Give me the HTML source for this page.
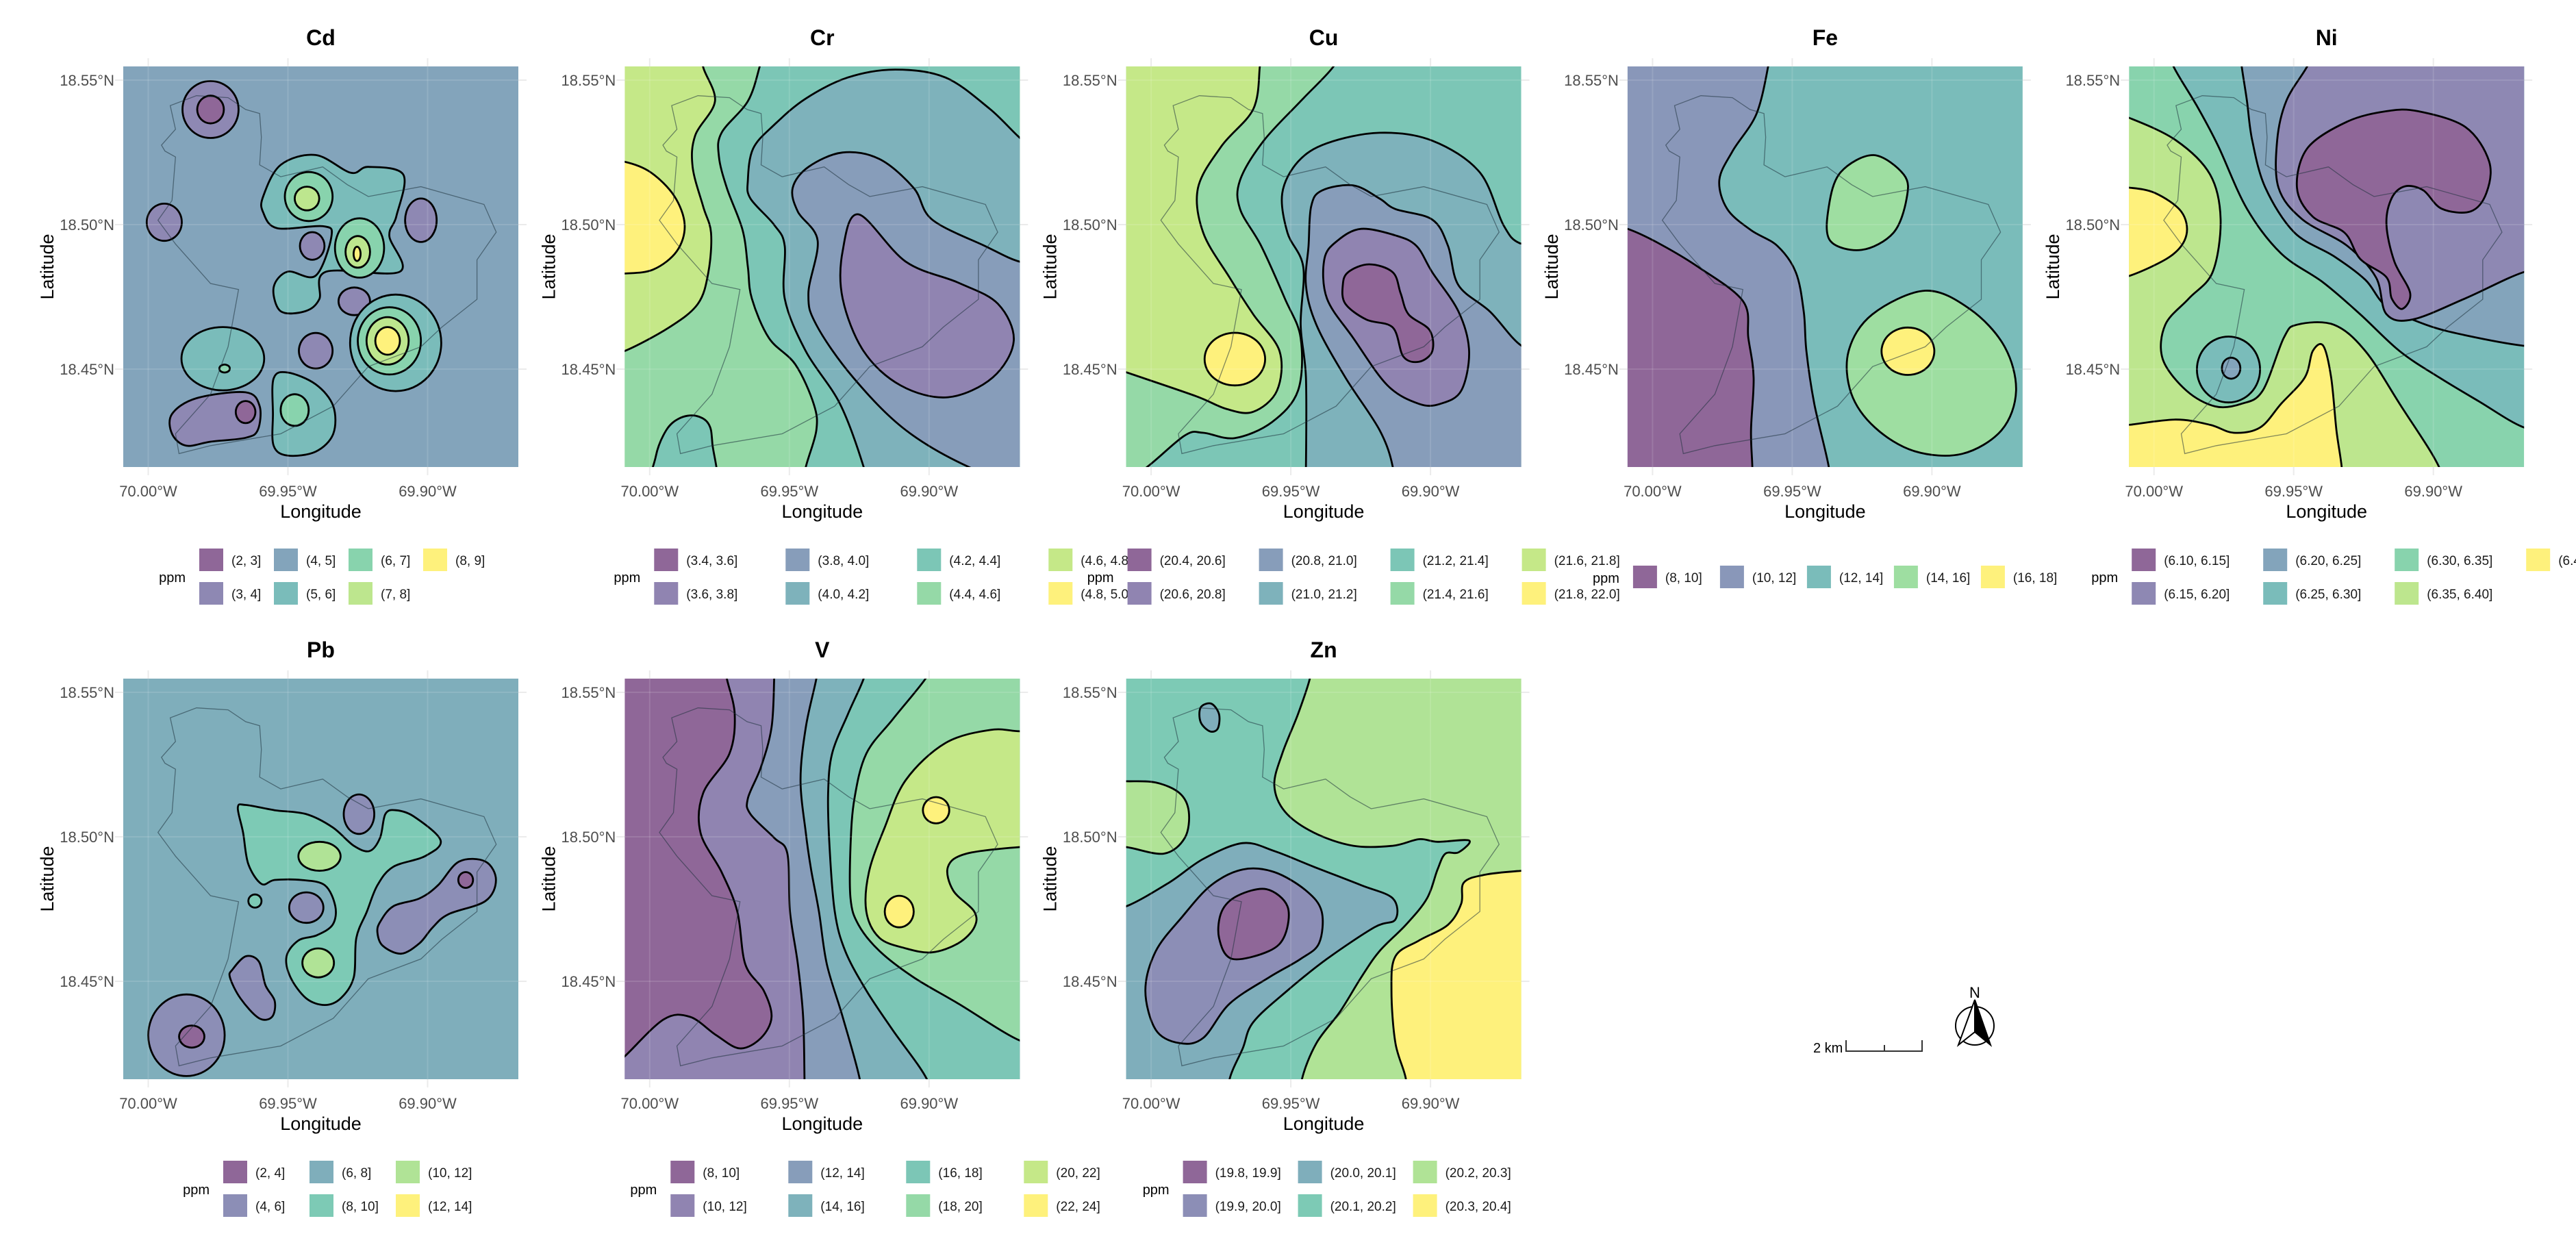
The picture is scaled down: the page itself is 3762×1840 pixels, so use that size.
<!DOCTYPE html>
<html><head><meta charset="utf-8">
<style>
html,body{margin:0;padding:0;background:#fff;}
svg{display:block;font-family:"Liberation Sans",sans-serif;}
</style></head>
<body>
<svg id="fig" xmlns="http://www.w3.org/2000/svg" width="3762" height="1840" viewBox="0 0 3762 1840">
<rect width="3762" height="1840" fill="#fff"/>
<g>
<text x="2648" y="1537" font-size="20" fill="#000">2 km</text>
<path d="M2696 1519 V1535 H2807 V1519 M2752 1526 V1535" stroke="#333" stroke-width="2" fill="none"/>
</g>
<g>
<text x="2884" y="1457" font-size="22" text-anchor="middle" fill="#000">N</text>
<circle cx="2884" cy="1498" r="28" fill="none" stroke="#000" stroke-width="2"/>
<path d="M2884 1460 L2860 1526 L2884 1507 Z" fill="#fff" stroke="#000" stroke-width="2"/>
<path d="M2884 1460 L2907 1526 L2884 1507 Z" fill="#000" stroke="#000" stroke-width="2"/>
</g>
</svg>
<script>
const NS="http://www.w3.org/2000/svg";
const svg=document.getElementById('fig');

// ---------- data ----------
const xTickLon=[70.00,69.95,69.90];
const xTickLabels=["70.00°W","69.95°W","69.90°W"];
const yTickLat=[18.55,18.50,18.45];
const yTickLabels=["18.55°N","18.50°N","18.45°N"];

const cdLabels=["(2, 3]","(3, 4]","(4, 5]","(5, 6]","(6, 7]","(7, 8]","(8, 9]"];
const crLabels=["(3.4, 3.6]","(3.6, 3.8]","(3.8, 4.0]","(4.0, 4.2]","(4.2, 4.4]","(4.4, 4.6]","(4.6, 4.8]","(4.8, 5.0]"];
const cuLabels=["(20.4, 20.6]","(20.6, 20.8]","(20.8, 21.0]","(21.0, 21.2]","(21.2, 21.4]","(21.4, 21.6]","(21.6, 21.8]","(21.8, 22.0]"];
const feLabels=["(8, 10]","(10, 12]","(12, 14]","(14, 16]","(16, 18]"];
const niLabels=["(6.10, 6.15]","(6.15, 6.20]","(6.20, 6.25]","(6.25, 6.30]","(6.30, 6.35]","(6.35, 6.40]","(6.40, 6.45]"];
const pbLabels=["(2, 4]","(4, 6]","(6, 8]","(8, 10]","(10, 12]","(12, 14]"];
const vLabels=["(8, 10]","(10, 12]","(12, 14]","(14, 16]","(16, 18]","(18, 20]","(20, 22]","(22, 24]"];
const znLabels=["(19.8, 19.9]","(19.9, 20.0]","(20.0, 20.1]","(20.1, 20.2]","(20.2, 20.3]","(20.3, 20.4]"];

const cdRegions=[
 {c:3,p:[[750,500],[800,420],[900,395],[1000,440],[1050,425],[1150,445],[1130,550],[1110,600],[1140,690],[930,690],[910,760],[870,790],[800,790],[780,730],[820,690],[900,700],[945,600],[920,575],[790,580],[750,540]]},
 {c:4,e:[880,500,68,62]},{c:5,e:[875,505,35,30]},
 {c:4,e:[1025,630,70,75]},{c:5,e:[1020,640,35,40]},{c:6,e:[1018,645,10,18]},
 {c:1,e:[600,280,80,72]},{c:0,e:[600,280,38,35]},
 {c:1,e:[468,565,50,47]},{c:1,e:[890,625,35,35]},{c:1,e:[1010,765,45,35]},{c:1,e:[900,890,48,45]},{c:1,e:[1200,560,45,55]},
 {c:3,e:[1128,870,130,122]},{c:4,e:[1110,865,90,85]},{c:5,e:[1105,865,60,60]},{c:6,e:[1105,865,35,35]},
 {c:3,e:[635,910,118,80]},{c:4,e:[640,935,15,10]},
 {c:1,p:[[490,1050],[560,1010],[700,995],[740,1030],[735,1090],[700,1110],[600,1120],[530,1130],[490,1100]]},{c:0,e:[700,1045,28,28]},
 {c:3,p:[[780,960],[820,945],[900,975],[950,1030],[950,1100],[900,1145],[820,1155],[780,1130],[778,1050]]},{c:4,e:[840,1040,40,40]}
];
const crRegions=[
 {c:7,p:[[-50,380],[30,380],[130,420],[220,510],[260,620],[230,720],[140,790],[30,805],[-50,805]]},
 {c:5,p:[[330,-50],[330,20],[375,150],[300,280],[290,400],[330,550],[360,650],[350,800],[310,920],[200,1010],[30,1100],[-50,1110],[-50,1650],[1650,1650],[1650,-50]]},
 {c:4,p:[[560,-50],[545,18],[500,150],[400,270],[390,360],[420,480],[480,640],[500,780],[515,900],[580,1050],[680,1150],[750,1300],[760,1400],[720,1540],[700,1650],[1650,1650],[1650,-50]]},
 {c:4,p:[[140,1650],[150,1500],[190,1400],[240,1355],[300,1345],[350,1375],[365,1450],[370,1650]]},
 {c:3,p:[[520,330],[600,240],[720,140],[880,60],[1060,30],[1250,60],[1420,180],[1560,310],[1650,320],[1650,1650],[960,1650],[940,1540],[850,1300],[720,1100],[640,900],[640,700],[600,620],[510,520],[500,450]]},
 {c:2,p:[[1650,770],[1533,760],[1400,700],[1200,600],[1130,480],[1000,370],[860,345],[730,400],[670,480],[690,570],[765,680],[730,880],[760,1000],[900,1200],[1100,1400],[1350,1545],[1650,1650]]},
 {c:1,p:[[920,580],[1100,760],[1300,840],[1450,920],[1510,1060],[1430,1200],[1260,1275],[1080,1230],[940,1100],[860,900],[860,720]]}
];
const cuRegions=[
 {c:5,p:[[-50,-50],[840,-50],[825,18],[700,150],[560,300],[470,450],[470,560],[550,700],[640,900],[700,1050],[690,1250],[590,1370],[450,1430],[330,1410],[260,1420],[110,1545],[-50,1650]]},
 {c:6,p:[[-50,-50],[550,-50],[545,18],[520,180],[400,320],[310,480],[330,650],[430,820],[520,960],[620,1100],[610,1250],[520,1330],[420,1320],[300,1270],[37,1180],[-50,1150]]},
 {c:7,e:[450,1130,115,100]},
 {c:3,p:[[1650,700],[1533,690],[1470,620],[1380,420],[1200,300],[1000,270],[800,310],[690,380],[630,500],[650,650],[710,780],[700,1000],[720,1200],[720,1540],[715,1650],[1650,1650]]},
 {c:2,p:[[780,490],[900,470],[1000,520],[1060,560],[1200,600],[1260,700],[1300,850],[1420,950],[1540,1080],[1650,1100],[1650,1650],[1050,1650],[1050,1540],[1000,1400],[870,1200],[760,1000],[720,850],[730,700],[740,550]]},
 {c:1,p:[[930,635],[1060,660],[1140,700],[1200,800],[1300,950],[1340,1100],[1310,1250],[1230,1300],[1150,1300],[1030,1230],[900,1050],[800,900],[790,750],[840,680]]},
 {c:0,p:[[880,800],[960,770],[1050,800],[1080,880],[1110,960],[1190,1020],[1200,1100],[1150,1140],[1090,1120],[1050,1010],[950,980],[870,920],[860,850]]}
];
const feRegions=[
 {c:1,p:[[-50,-50],[570,-50],[565,18],[520,200],[430,340],[380,450],[410,560],[500,640],[600,700],[670,800],[700,950],[710,1100],[740,1300],[795,1540],[800,1650],[-50,1650]]},
 {c:0,p:[[-50,620],[32,635],[150,690],[300,780],[470,910],[490,1050],[510,1200],[500,1400],[505,1540],[505,1650],[-50,1650]]},
 {c:3,p:[[965,355],[1080,430],[1090,520],[1040,650],[920,715],[800,680],[795,550],[840,420]]},
 {c:3,p:[[1160,870],[1330,940],[1460,1080],[1505,1250],[1450,1400],[1300,1490],[1120,1480],[970,1390],[880,1260],[870,1100],[960,960]]},
 {c:4,e:[1095,1100,100,90]}
];
const niRegions=[
 {c:5,p:[[-50,200],[22,215],[200,300],[330,430],[370,600],[340,800],[250,900],[160,1000],[150,1130],[240,1250],[350,1310],[450,1300],[530,1250],[610,1050],[660,1000],[800,1000],[920,1100],[1050,1300],[1200,1540],[1210,1650],[-50,1650]]},
 {c:3,e:[400,1170,120,125]},{c:2,e:[410,1165,35,40]},
 {c:6,p:[[-50,480],[22,480],[120,500],[220,570],[240,660],[180,740],[22,815],[-50,815]]},
 {c:6,p:[[-50,1385],[22,1380],[200,1360],[330,1380],[420,1410],[520,1390],[600,1300],[690,1200],[720,1100],[760,1080],[790,1200],[810,1400],[830,1540],[835,1650],[-50,1650]]},
 {c:3,p:[[180,-50],[190,18],[280,170],[360,320],[470,560],[600,730],[760,840],[900,960],[1050,1100],[1200,1200],[1350,1290],[1523,1390],[1650,1400],[1650,-50]]},
 {c:2,p:[[445,-50],[450,18],[470,150],[490,300],[540,480],[650,650],[800,740],[920,830],[1000,930],[1150,1000],[1300,1040],[1523,1080],[1650,1080],[1650,-50]]},
 {c:1,p:[[720,-50],[700,18],[620,150],[585,300],[590,480],[680,600],[850,700],[960,820],[1000,960],[1100,980],[1300,900],[1523,800],[1650,790],[1650,-50]]},
 {c:0,p:[[1120,190],[1300,250],[1390,380],[1380,500],[1320,570],[1210,560],[1140,490],[1070,475],[1020,520],[1000,620],[1030,760],[1090,880],[1060,940],[1020,900],[1000,820],[900,750],[840,650],[720,590],[660,480],[700,330],[850,230],[1000,190]]}
];
const pbRegions=[
 {c:3,p:[[460,505],[490,495],[600,515],[720,530],[820,580],[900,650],[960,670],[1000,620],[1020,530],[1060,515],[1130,540],[1230,630],[1170,690],[1050,730],[990,800],[950,900],[910,1000],[900,1150],[850,1230],[790,1255],[720,1230],[660,1150],[645,1070],[690,1010],[760,990],[820,950],[830,880],[790,800],[700,780],[600,780],[550,795],[500,720],[480,600]]},
 {c:4,e:[770,690,80,55]},{c:4,e:[765,1095,60,55]},{c:3,e:[525,860,25,25]},
 {c:1,e:[920,530,58,75]},{c:1,e:[720,885,65,58]},
 {c:1,e:[265,1370,145,155]},{c:0,e:[285,1375,48,42]},
 {c:1,p:[[440,1120],[490,1070],[540,1090],[565,1180],[600,1240],[590,1300],[540,1305],[470,1230],[430,1150]]},
 {c:1,p:[[1000,940],[1050,880],[1150,850],[1220,800],[1300,710],[1400,710],[1440,780],[1400,860],[1260,910],[1200,960],[1150,1020],[1080,1060],[1010,1030],[990,980]]},
 {c:0,e:[1325,780,28,30]}
];
const vRegions=[
 {c:1,p:[[410,-50],[420,15],[450,150],[430,300],[330,450],[320,600],[400,750],[460,900],[490,1100],[560,1200],[590,1300],[550,1380],[470,1420],[380,1370],[280,1300],[180,1310],[32,1450],[-50,1520],[-50,1650],[1650,1650],[1650,-50]]},
 {c:2,p:[[600,-50],[600,15],[590,200],[550,350],[500,470],[510,530],[600,620],[650,680],[660,900],[690,1100],[710,1300],[715,1537],[715,1650],[1650,1650],[1650,-50]]},
 {c:3,p:[[765,-50],[760,15],[720,200],[700,400],[720,600],[740,740],[770,900],[800,1100],[860,1300],[925,1537],[930,1650],[1650,1650],[1650,-50]]},
 {c:4,p:[[950,-50],[940,15],[880,150],[820,300],[805,450],[810,650],[830,900],[870,1050],[950,1200],[1050,1350],[1180,1537],[1200,1650],[1650,1650],[1650,-50]]},
 {c:5,p:[[1200,-50],[1175,15],[1050,170],[950,300],[905,470],[890,650],[890,850],[920,950],[1000,1050],[1130,1150],[1300,1250],[1533,1390],[1650,1400],[1650,-50]]},
 {c:6,p:[[1650,215],[1533,215],[1420,210],[1250,260],[1100,400],[1020,580],[960,750],[950,900],[1000,1000],[1100,1040],[1200,1055],[1300,1020],[1360,960],[1360,900],[1280,820],[1260,730],[1330,680],[1533,655],[1650,655]]},
 {c:7,e:[1215,515,50,50]},{c:7,e:[1075,900,55,60]}
];
const znRegions=[
 {c:4,p:[[740,-50],[735,15],[690,150],[630,300],[600,420],[640,520],[750,600],[900,650],[1050,650],[1150,625],[1220,635],[1340,630],[1300,675],[1250,680],[1220,740],[1180,850],[1100,950],[1000,1050],[930,1150],[850,1280],[760,1400],[705,1537],[700,1650],[1650,1650],[1650,-50]]},
 {c:4,p:[[-50,405],[37,405],[150,410],[240,450],[275,520],[260,620],[180,680],[37,655],[-50,655]]},
 {c:5,p:[[1650,740],[1538,745],[1400,760],[1320,790],[1310,870],[1260,950],[1150,1010],[1060,1070],[1045,1200],[1060,1400],[1100,1537],[1100,1650],[1650,1650]]},
 {c:2,p:[[-50,880],[37,880],[200,790],[330,700],[480,640],[600,670],[750,730],[930,800],[1050,850],[1060,930],[980,960],[800,1080],[650,1200],[520,1320],[480,1420],[430,1537],[425,1650],[-50,1650]]},
 {c:2,p:[[320,125],[360,110],[390,150],[385,205],[355,215],[320,180]]},
 {c:1,p:[[480,740],[600,750],[720,820],[780,900],[770,1020],[700,1080],[580,1150],[430,1250],[330,1380],[240,1400],[150,1350],[110,1200],[150,1050],[250,920],[360,800]]},
 {c:0,p:[[460,840],[570,815],[650,880],[640,990],[580,1050],[440,1080],[390,1000],[400,900]]}
];
const cityOutline=[[485,270],[560,245],[650,250],[700,280],[740,290],[745,350],[740,420],[800,450],[920,425],[990,470],[1050,500],[1200,475],[1380,520],[1415,590],[1360,660],[1360,760],[1260,830],[1200,880],[1050,930],[950,1030],[800,1100],[600,1130],[510,1150],[500,1100],[600,1000],[650,880],[680,735],[600,720],[500,620],[450,560],[490,510],[500,400],[470,385],[460,370],[500,330]];
const cdFrame=[351,171,1478,1184];

const panels=[
 {name:"Cd",col:0,row:0,labels:cdLabels,bg:2,regions:cdRegions,frame:cdFrame,keyRel:111,colW:109,rows:2},
 {name:"Cr",col:1,row:0,labels:crLabels,bg:6,regions:crRegions,frame:[32,18,1533,1540],keyRel:43,colW:192,rows:2},
 {name:"Cu",col:2,row:0,labels:cuLabels,bg:4,regions:cuRegions,frame:[37,18,1538,1540],keyRel:2,colW:192,rows:2},
 {name:"Fe",col:3,row:0,labels:feLabels,bg:2,regions:feRegions,frame:[32,18,1530,1540],keyRel:8,colW:127,rows:1},
 {name:"Ni",col:4,row:0,labels:niLabels,bg:4,regions:niRegions,frame:[22,20,1523,1540],keyRel:4,colW:192,rows:2},
 {name:"Pb",col:0,row:1,labels:pbLabels,bg:2,regions:pbRegions,frame:[25,15,1525,1537],keyRel:146,colW:126,rows:2},
 {name:"V",col:1,row:1,labels:vLabels,bg:0,regions:vRegions,frame:[32,15,1533,1537],keyRel:67,colW:172,rows:2},
 {name:"Zn",col:2,row:1,labels:znLabels,bg:3,regions:znRegions,frame:[37,15,1538,1537],keyRel:83,colW:168,rows:2}
];

const vir=["#440154","#472D7B","#3B528B","#2C728E","#21908C","#27AD81","#5DC863","#AADC32","#FDE725"];
function hex(h){return [1,3,5].map(i=>parseInt(h.substr(i,2),16));}
function viridis(t){
  const s=t*(vir.length-1),i=Math.min(Math.floor(s),vir.length-2),f=s-i;
  const a=hex(vir[i]),b=hex(vir[i+1]);
  const c=a.map((v,k)=>v+(b[k]-v)*f).map(v=>Math.round(v*0.6+255*0.4));
  return "rgb("+c.join(",")+")";
}
function el(tag,attrs,parent){const e=document.createElementNS(NS,tag);for(const k in attrs)e.setAttribute(k,attrs[k]);(parent||svg).appendChild(e);return e;}
function smooth(pts){
  const n=pts.length;let d="M"+pts[0][0].toFixed(1)+" "+pts[0][1].toFixed(1);
  for(let i=0;i<n;i++){
    const p0=pts[(i-1+n)%n],p1=pts[i],p2=pts[(i+1)%n],p3=pts[(i+2)%n];
    const c1=[p1[0]+(p2[0]-p0[0])/6,p1[1]+(p2[1]-p0[1])/6];
    const c2=[p2[0]-(p3[0]-p1[0])/6,p2[1]-(p3[1]-p1[1])/6];
    d+="C"+c1[0].toFixed(1)+" "+c1[1].toFixed(1)+" "+c2[0].toFixed(1)+" "+c2[1].toFixed(1)+" "+p2[0].toFixed(1)+" "+p2[1].toFixed(1);
  }
  return d+"Z";
}
const PW=577,PH=585;

panels.forEach((P,pi)=>{
  const x0=180+732.3*P.col, y0=97+894*P.row;
  const [fx0,fy0,fx1,fy1]=P.frame;
  const sx=v=>x0+(v-fx0)/(fx1-fx0)*PW;
  const sy=v=>y0+(v-fy0)/(fy1-fy0)*PH;
  const lonX=lon=>x0+36.5+(70.00-lon)/0.05*204;
  const latY=lat=>y0+20+(18.55-lat)/0.05*211;
  const n=P.labels.length;
  const col=i=>viridis(i/(n-1));

  const g=el('g',{});
  
  

  const grid=el('g',{stroke:'#ebebeb','stroke-width':2},g);
  
  
  xTickLon.forEach(l=>el('line',{x1:lonX(l),x2:lonX(l),y1:y0-12,y2:y0+PH+12},grid));
  yTickLat.forEach(l=>el('line',{x1:x0-12,x2:x0+PW+12,y1:latY(l),y2:latY(l)},grid));

  const cid='clip'+pi;
  const cp=el('clipPath',{id:cid},g);el('rect',{x:x0,y:y0,width:PW,height:PH},cp);
  const map=el('g',{'clip-path':'url(#'+cid+')'},g);
  
  
  el('rect',{x:x0,y:y0,width:PW,height:PH,fill:col(P.bg)},map);
  P.regions.forEach(r=>{
    let pts;
    if(r.e){const [cx,cy,rx,ry]=r.e;pts=[];for(let k=0;k<16;k++){const a=k/16*2*Math.PI;pts.push([cx+rx*Math.cos(a),cy+ry*Math.sin(a)]);}}
    else pts=r.p;
    const sp=pts.map(q=>[sx(q[0]),sy(q[1])]);
    const path=el('path',{d:smooth(sp),fill:col(r.c),stroke:'#000','stroke-width':2.8,'stroke-linejoin':'round'},map);
    
    
  });
  xTickLon.forEach(l=>el('line',{x1:lonX(l),x2:lonX(l),y1:y0,y2:y0+PH,stroke:'rgba(255,255,255,0.12)','stroke-width':2},map));
  yTickLat.forEach(l=>el('line',{x1:x0,x2:x0+PW,y1:latY(l),y2:latY(l),stroke:'rgba(255,255,255,0.12)','stroke-width':2},map));
  const cx0=cdFrame[0],cy0=cdFrame[1],cw=cdFrame[2]-cdFrame[0],ch=cdFrame[3]-cdFrame[1];
  const op=cityOutline.map(q=>[x0+(q[0]-cx0)/cw*PW,y0+(q[1]-cy0)/ch*PH]);
  const city=el('polygon',{points:op.map(q=>q[0].toFixed(1)+","+q[1].toFixed(1)).join(" "),fill:'none',stroke:'rgba(30,50,60,0.55)','stroke-width':1.3},map);
  
  

  const t=el('text',{x:x0+PW/2,y:y0-31,'font-size':32,'font-weight':'bold','text-anchor':'middle',fill:'#000'},g);
  t.textContent=P.name;
  
  
  xTickLon.forEach((l,i)=>{const tx=el('text',{x:lonX(l),y:y0+PH+43,'font-size':22,'text-anchor':'middle',fill:'#4d4d4d'},g);tx.textContent=xTickLabels[i];
    
    });
  yTickLat.forEach((l,i)=>{const ty=el('text',{x:x0-13,y:latY(l)+8,'font-size':22,'text-anchor':'end',fill:'#4d4d4d'},g);ty.textContent=yTickLabels[i];
    
    });
  const xt=el('text',{x:x0+PW/2,y:y0+PH+74,'font-size':27,'text-anchor':'middle',fill:'#000'},g);xt.textContent="Longitude";
  
  
  const yt=el('text',{x:0,y:0,'font-size':27,'text-anchor':'middle',fill:'#000',transform:'translate('+(x0-102)+','+(y0+PH/2)+') rotate(-90)'},g);yt.textContent="Latitude";
  
  

  const lg=el('g',{},g);
  
  
  const rowsY=P.rows===2?[y0+721,y0+770]:[y0+746];
  const kx0=x0+P.keyRel;
  const ppm=el('text',{x:kx0-20,y:(P.rows===2?y0+745:y0+746)+8,'font-size':20,'text-anchor':'end',fill:'#000'},lg);ppm.textContent="ppm";
  
  
  P.labels.forEach((lab,i)=>{
    const c=Math.floor(i/P.rows),r=i%P.rows;
    const kx=kx0+c*P.colW,ky=rowsY[r];
    const e=el('g',{},lg);
    
    
    el('rect',{x:kx,y:ky-17,width:35,height:33,fill:col(i)},e);
    const tt=el('text',{x:kx+47,y:ky+7,'font-size':19,fill:'#1a1a1a'},e);tt.textContent=lab;
  });
});
</script>
</body></html>
